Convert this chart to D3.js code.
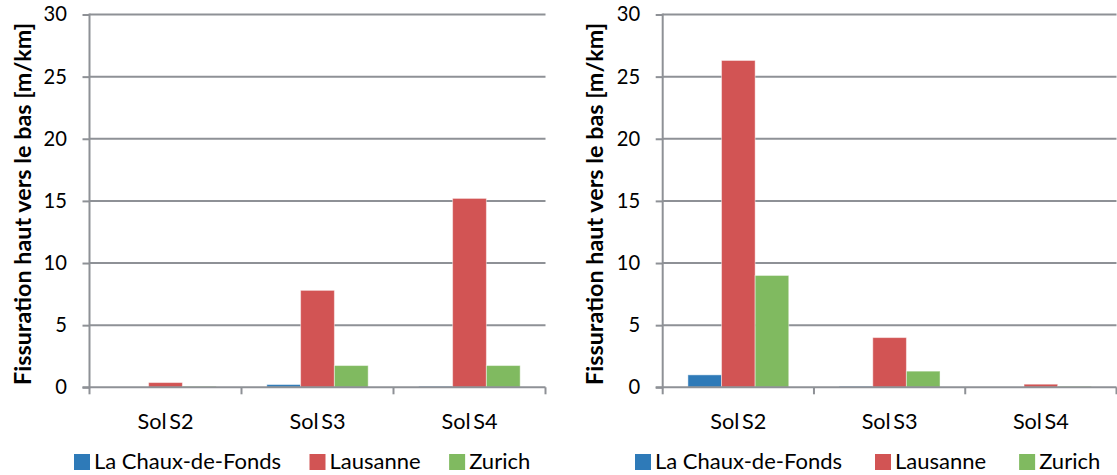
<!DOCTYPE html>
<html>
<head>
<meta charset="utf-8">
<script src="https://cdn.jsdelivr.net/npm/d3@7"></script>
<style>
  html, body { margin: 0; padding: 0; background: #fff; }
  svg { display: block; }
  text { font-family: Lato, "Open Sans", sans-serif; fill: #000; }
</style>
</head>
<body>
<svg id="chart" width="1117" height="475"></svg>
<script>
// ---- data ----
const categories = ["Sol S2", "Sol S3", "Sol S4"];
const seriesNames = ["La Chaux-de-Fonds", "Lausanne", "Zurich"];
const yTicks = [0, 5, 10, 15, 20, 25, 30];
const yTitle = "Fissuration haut vers le bas [m/km]";

// left chart
const leftChauxDeFonds = [0, 0.22, 0.08];
const leftLausanne     = [0.38, 7.8, 15.2];
const leftZurich       = [0.08, 1.75, 1.75];

// right chart
const rightChauxDeFonds = [1.0, 0.08, 0];
const rightLausanne     = [26.3, 4.0, 0.25];
const rightZurich       = [9.0, 1.3, 0.08];

const colors = ["#2e7ab8", "#d25454", "#80ba60"];

// ---- layout ----
const svg = d3.select("#chart");
const yTop = 14.5, yBottom = 387.3;
const y = d3.scaleLinear().domain([0, 30]).range([yBottom, yTop]);

// fit a font size so a sample string gets a target width
function fitSize(str, target, weight, wordSpacing) {
  const t = svg.append("text").style("font-size", "20px")
    .style("font-weight", weight || "normal")
    .style("word-spacing", wordSpacing || "0px").text(str);
  const w = t.node().getComputedTextLength();
  t.remove();
  return 20 * target / w;
}
const tickSize = fitSize("30", 23.4);
const catSize = fitSize("Sol S2", 55.7, "normal", "-3px");
const legSize = fitSize("La Chaux-de-Fonds", 187);
const titleSize = fitSize(yTitle, 362, "bold");

const panels = [
  { x0: 89.5, x1: 545.5, titleX: 22.5, legendX: 74, legendGap: 28.5,
    values: [leftChauxDeFonds, leftLausanne, leftZurich] },
  { x0: 662.7, x1: 1116.5, titleX: 594.5, legendX: 635, legendGap: 33,
    values: [rightChauxDeFonds, rightLausanne, rightZurich] }
];

const gridColor = "#8e9196";

panels.forEach(p => {
  const g = svg.append("g");
  const x = d3.scaleBand().domain(categories).range([p.x0, p.x1]).padding(0);
  const xs = d3.scaleBand().domain(seriesNames).range([0, x.bandwidth()])
    .paddingInner(0).paddingOuter(0.75);

  // gridlines
  g.append("g").selectAll("line").data(yTicks.filter(t => t > 0)).join("line")
    .attr("x1", p.x0).attr("x2", p.x1)
    .attr("y1", d => y(d)).attr("y2", d => y(d))
    .attr("stroke", gridColor).attr("stroke-width", 2);

  // y axis
  const yAxis = d3.axisLeft(y).tickValues(yTicks).tickSize(7).tickPadding(15.5)
    .tickFormat(d3.format("d"));
  const ya = g.append("g").attr("transform", `translate(${p.x0},0)`).call(yAxis);
  ya.select(".domain").remove();
  ya.selectAll(".tick line").attr("stroke", gridColor).attr("stroke-width", 2);
  ya.selectAll(".tick text").style("font-size", tickSize + "px").attr("fill", "#000")
    .style("font-family", "Lato, sans-serif");

  // bars
  seriesNames.forEach((s, si) => {
    g.append("g").selectAll("rect").data(p.values[si]).join("rect")
      .attr("x", (d, i) => x(categories[i]) + xs(s))
      .attr("width", xs.bandwidth())
      .attr("y", d => y(d))
      .attr("height", d => y(0) - y(d))
      .attr("fill", colors[si])
      .attr("stroke", "rgba(255,255,255,0.45)")
      .attr("stroke-width", 1);
  });

  // vertical axis line
  g.append("line").attr("x1", p.x0).attr("x2", p.x0)
    .attr("y1", yTop - 1).attr("y2", yBottom + 1)
    .attr("stroke", gridColor).attr("stroke-width", 2);

  // x axis
  const xAxis = d3.axisBottom(x).tickSize(0);
  const xa = g.append("g").attr("transform", `translate(0,${yBottom})`).call(xAxis);
  xa.select(".domain").remove();
  xa.selectAll(".tick text").style("font-size", catSize + "px").attr("fill", "#000")
    .style("font-family", "Lato, sans-serif").style("word-spacing", "-3px")
    .attr("dy", null).attr("y", 42);
  g.append("line").attr("x1", p.x0 - 7).attr("x2", p.x1)
    .attr("y1", yBottom).attr("y2", yBottom)
    .attr("stroke", gridColor).attr("stroke-width", 2);
  const bounds = categories.map(c => x(c)).concat([p.x1]);
  g.append("g").selectAll("line").data(bounds).join("line")
    .attr("x1", d => d).attr("x2", d => d)
    .attr("y1", yBottom).attr("y2", yBottom + 7)
    .attr("stroke", gridColor).attr("stroke-width", 2);

  // y title
  g.append("text")
    .attr("transform", `translate(${p.titleX},204) rotate(-90)`)
    .attr("text-anchor", "middle").attr("dy", "0.35em")
    .style("font-size", titleSize + "px").style("font-weight", "bold")
    .text(yTitle);

  // legend
  let lx = p.legendX;
  seriesNames.forEach((s, si) => {
    g.append("rect").attr("x", lx).attr("y", 454).attr("width", 16).attr("height", 16)
      .attr("fill", colors[si]);
    const t = g.append("text").attr("x", lx + 20).attr("y", 468.5)
      .style("font-size", legSize + "px").text(s);
    lx += 20 + t.node().getComputedTextLength() + p.legendGap;
  });
});
</script>
</body>
</html>
